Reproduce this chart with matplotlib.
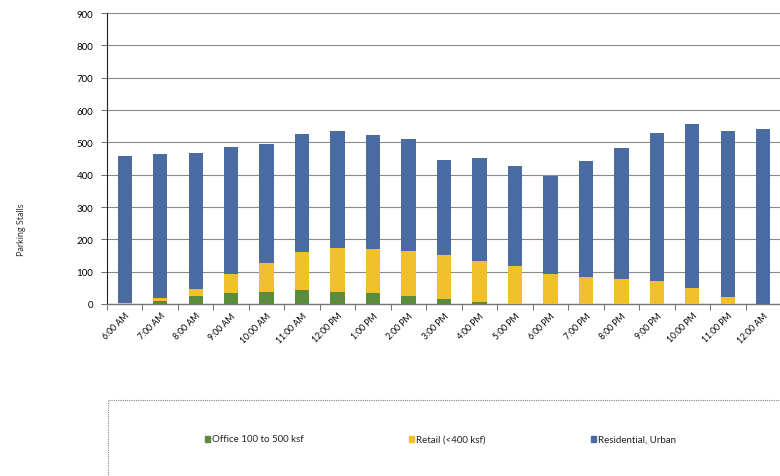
import matplotlib
matplotlib.use("Agg")
import matplotlib.pyplot as plt
from matplotlib.patches import Rectangle
import numpy as np

plt.rcParams['font.family'] = ['Lato', 'DejaVu Sans']

hours = ["6:00 AM", "7:00 AM", "8:00 AM", "9:00 AM", "10:00 AM", "11:00 AM",
         "12:00 PM", "1:00 PM", "2:00 PM", "3:00 PM", "4:00 PM", "5:00 PM",
         "6:00 PM", "7:00 PM", "8:00 PM", "9:00 PM", "10:00 PM", "11:00 PM",
         "12:00 AM"]
office = [0, 8, 25, 33, 38, 42, 38, 33, 24, 14, 7, 1, 0, 0, 0, 0, 0, 0, 0]
retail = [3, 10, 22, 59, 90, 119, 136, 137, 139, 138, 126, 116, 92, 84, 77, 70, 49, 21, 1]
residential = [454, 445, 421, 395, 368, 365, 360, 354, 348, 294, 319, 309, 304,
               358, 407, 458, 507, 515, 541]

green = "#5b8c3e"
yellow = "#f0c12c"
blue = "#4a6ca3"

fig = plt.figure(figsize=(7.8, 4.77), dpi=100)
ax = fig.add_axes([107/780, 1 - 305/477, 674/780, 291/477])

x = np.arange(len(hours))
w = 0.405
office_a = np.array(office)
retail_a = np.array(retail)
res_a = np.array(residential)
ax.bar(x, office_a, w, color=green, label="Office 100 to 500 ksf", zorder=3)
ax.bar(x, retail_a, w, bottom=office_a, color=yellow, label="Retail (<400 ksf)", zorder=3)
ax.bar(x, res_a, w, bottom=office_a + retail_a, color=blue, label="Residential, Urban", zorder=3)

ax.set_xlim(-0.5, len(hours) - 0.5)
ax.set_ylim(0, 900)
ax.set_yticks(range(0, 901, 100))
ax.tick_params(axis='y', labelsize=7, length=4, width=0.6, color="#555555", pad=6)
ax.set_xticks(x)
ax.set_xticklabels(hours, rotation=45, ha='right', rotation_mode='anchor', fontsize=6.2)
ax.tick_params(axis='x', which='major', length=0, pad=5)
ax.set_xticks(np.arange(-0.5, len(hours), 1), minor=True)
ax.tick_params(axis='x', which='minor', length=4, width=0.6, color="#555555")

ax.grid(axis='y', color="#8a8a8a", linewidth=0.8, zorder=0)
for s in ["top", "right"]:
    ax.spines[s].set_visible(False)
ax.spines["left"].set_color("#222222")
ax.spines["left"].set_linewidth(0.8)
ax.spines["bottom"].set_color("#777777")
ax.spines["bottom"].set_linewidth(1.0)

fig.text(22/780, 1 - 230/477, "Parking Stalls", rotation=90, fontsize=6.5,
         ha='center', va='center', color="#333333")

# legend frame with dotted border
frame = Rectangle((108/780, -0.05), 0.9, 1 - 401/477 + 0.05, transform=fig.transFigure,
                  fill=False, edgecolor="#888888", linewidth=0.8, linestyle=(0, (1, 1)),
                  clip_on=False)
fig.patches.append(frame)

handles, labels = ax.get_legend_handles_labels()
for hnd, lab, px in zip(handles, labels, [205, 409, 591]):
    color = hnd.patches[0].get_facecolor()
    fig.patches.append(Rectangle((px/780, 1 - 443/477), 5/780, 6/477,
                                 transform=fig.transFigure, color=color))
    fig.text((px + 7)/780, 1 - 440/477, lab, fontsize=7, va='center', ha='left',
             color="#222222")

fig.savefig("out.png", dpi=100)
